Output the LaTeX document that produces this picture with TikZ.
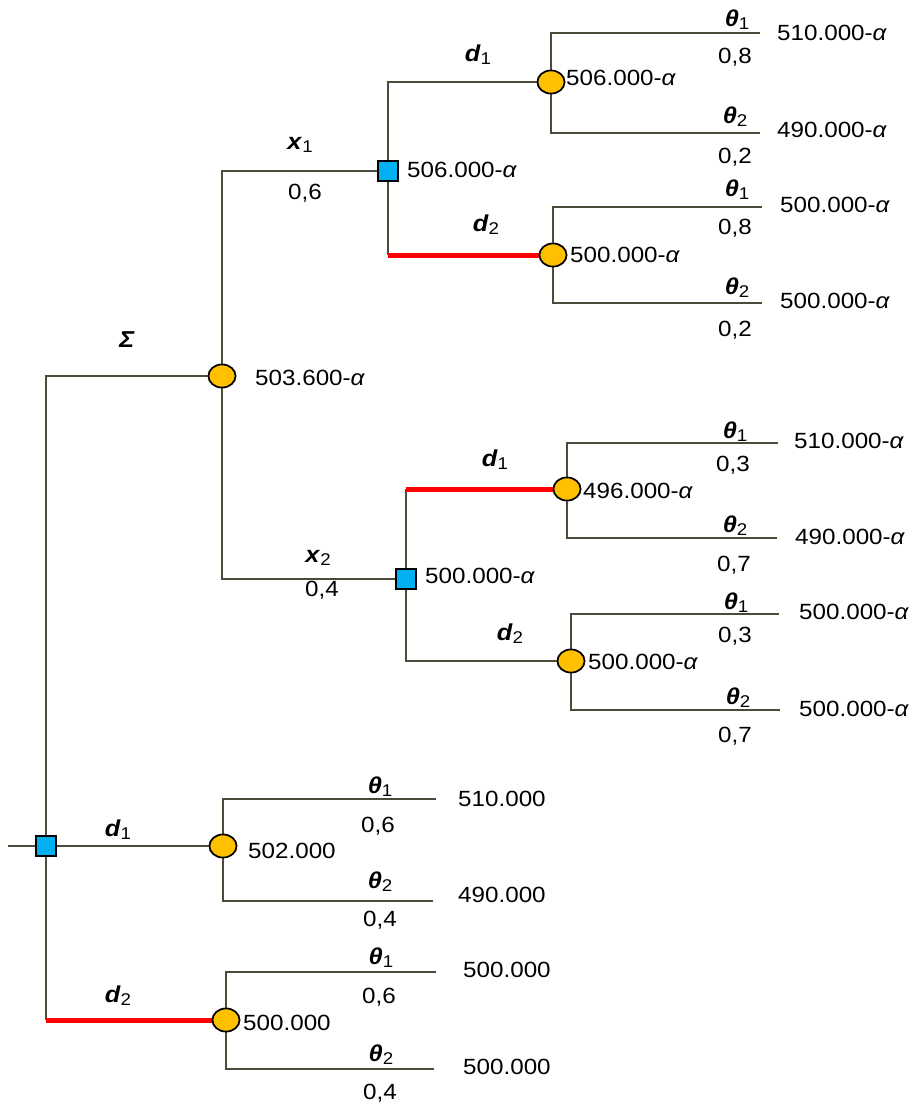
\documentclass[tikz,border=0pt]{standalone}
\usepackage{fontspec}
\setmainfont[FakeStretch=1.1]{Liberation Sans}
\usetikzlibrary{shapes.geometric}
\definecolor{edgecol}{HTML}{4D4A3A}
\definecolor{decblue}{HTML}{00B0F0}
\definecolor{chancegold}{HTML}{FFC000}
\newcommand{\bsub}[2]{{\fontsize{23}{24}\selectfont\textbf{\textit{#1}}}\raisebox{-0.25ex}{\fontsize{17}{17}\selectfont #2}}
\newcommand{\alp}{\textit{α}}
\tikzset{
  edge/.style={draw=edgecol, line width=2.8pt},
  best/.style={draw=red, line width=5pt},
  choice/.style={rectangle, draw=black, line width=1.6pt, fill=decblue, minimum size=20pt, inner sep=0pt},
  chance/.style={ellipse, draw=black, line width=1.6pt, fill=chancegold, minimum width=27pt, minimum height=23pt, inner sep=0pt},
  val/.style={anchor=west, inner sep=0pt, font=\fontsize{22}{24}\selectfont},
  lab/.style={inner sep=0pt, font=\fontsize{22}{24}\selectfont},
}
\begin{document}
\begin{tikzpicture}[x=1pt, y=-1pt]
\useasboundingbox (0,0) rectangle (913,1106);

% decision and chance nodes
\node[choice] (D0) at (46,846) {};
\node[choice] (D1) at (388,171) {};
\node[choice] (D2) at (406,579) {};
\node[chance] (C0) at (222,376) {};
\node[chance] (C1) at (551,82) {};
\node[chance] (C2) at (553,255) {};
\node[chance] (C3) at (567,489) {};
\node[chance] (C4) at (571,661) {};
\node[chance] (C5) at (223,846) {};
\node[chance] (C6) at (226,1020) {};

% free ends of the branches
\coordinate (s0) at (8,846);
\coordinate (e11) at (760,33);  \coordinate (e12) at (760,133);
\coordinate (e21) at (762,207); \coordinate (e22) at (762,303);
\coordinate (e31) at (778,443); \coordinate (e32) at (777,538);
\coordinate (e41) at (779,614); \coordinate (e42) at (780,710);
\coordinate (e51) at (436,799); \coordinate (e52) at (433,901);
\coordinate (e61) at (436,972); \coordinate (e62) at (434,1069);

% corners where the optimal (red) branches begin
\coordinate (k0) at (D0 |- C6);
\coordinate (k1) at (D1 |- C2);
\coordinate (k2) at (D2 |- C3);

\draw[edge] (s0) -- (D0);
\draw[edge] (D0) |- (C0);
\draw[edge] (D0) -- (C5);
\draw[edge] (D0) -- (k0);
\draw[best] (k0) -- (C6);

\draw[edge] (C0) |- (D1);
\draw[edge] (C0) |- (D2);

\draw[edge] (D1) |- (C1);
\draw[edge] (D1) -- (k1);
\draw[best] (k1) -- (C2);
\draw[edge] (D2) -- (k2);
\draw[best] (k2) -- (C3);
\draw[edge] (D2) |- (C4);

\draw[edge] (C1) |- (e11);
\draw[edge] (C1) |- (e12);
\draw[edge] (C2) |- (e21);
\draw[edge] (C2) |- (e22);
\draw[edge] (C3) |- (e31);
\draw[edge] (C3) |- (e32);
\draw[edge] (C4) |- (e41);
\draw[edge] (C4) |- (e42);
\draw[edge] (C5) |- (e51);
\draw[edge] (C5) |- (e52);
\draw[edge] (C6) |- (e61);
\draw[edge] (C6) |- (e62);

% branch labels
\node[lab] (lsig) at (127,340) {\fontsize{23}{24}\selectfont\textbf{\textit{Σ}}};
\node[lab] (lx1) at (300,145) {\bsub{x}{1}};
\node[lab] (px1) at (305,193) {0,6};
\node[lab] (lx2) at (318,558) {\bsub{x}{2}};
\node[lab] (px2) at (322,590) {0,4};
\node[lab] (ld11) at (478,55) {\bsub{d}{1}};
\node[lab] (ld12) at (486,225) {\bsub{d}{2}};
\node[lab] (ld21) at (495,460) {\bsub{d}{1}};
\node[lab] (ld22) at (510,634) {\bsub{d}{2}};
\node[lab] (ld01) at (118,830) {\bsub{d}{1}};
\node[lab] (ld02) at (118,996) {\bsub{d}{2}};

\node[lab] (t11) at (737,20) {\bsub{θ}{1}};  \node[lab] (p11) at (735,57) {0,8};
\node[lab] (t12) at (735,117) {\bsub{θ}{2}}; \node[lab] (p12) at (735,157) {0,2};
\node[lab] (t21) at (737,190) {\bsub{θ}{1}}; \node[lab] (p21) at (735,228) {0,8};
\node[lab] (t22) at (737,288) {\bsub{θ}{2}}; \node[lab] (p22) at (735,330) {0,2};
\node[lab] (t31) at (735,432) {\bsub{θ}{1}}; \node[lab] (p31) at (733,465) {0,3};
\node[lab] (t32) at (735,526) {\bsub{θ}{2}}; \node[lab] (p32) at (734,565) {0,7};
\node[lab] (t41) at (736,603) {\bsub{θ}{1}}; \node[lab] (p41) at (735,636) {0,3};
\node[lab] (t42) at (738,698) {\bsub{θ}{2}}; \node[lab] (p42) at (735,736) {0,7};
\node[lab] (t51) at (380,787) {\bsub{θ}{1}}; \node[lab] (p51) at (378,826) {0,6};
\node[lab] (t52) at (380,882) {\bsub{θ}{2}}; \node[lab] (p52) at (380,920) {0,4};
\node[lab] (t61) at (381,958) {\bsub{θ}{1}}; \node[lab] (p61) at (379,997) {0,6};
\node[lab] (t62) at (381,1055) {\bsub{θ}{2}}; \node[lab] (p62) at (380,1093) {0,4};

% expected values at the nodes
\node[val] (v0) at (255,378) {503.600-\alp};
\node[val] (v1) at (407,170) {506.000-\alp};
\node[val] (v2) at (425,576) {500.000-\alp};
\node[val] (v3) at (566,78) {506.000-\alp};
\node[val] (v4) at (570,255) {500.000-\alp};
\node[val] (v5) at (583,491) {496.000-\alp};
\node[val] (v6) at (588,662) {500.000-\alp};
\node[val] (v7) at (248,851) {502.000};
\node[val] (v8) at (243,1023) {500.000};

% pay-offs at the leaves
\node[val] (r11) at (777,33) {510.000-\alp};
\node[val] (r12) at (777,130) {490.000-\alp};
\node[val] (r21) at (780,205) {500.000-\alp};
\node[val] (r22) at (780,301) {500.000-\alp};
\node[val] (r31) at (794,441) {510.000-\alp};
\node[val] (r32) at (795,537) {490.000-\alp};
\node[val] (r41) at (799,612) {500.000-\alp};
\node[val] (r42) at (799,709) {500.000-\alp};
\node[val] (r51) at (458,799) {510.000};
\node[val] (r52) at (458,895) {490.000};
\node[val] (r61) at (463,970) {500.000};
\node[val] (r62) at (463,1067) {500.000};

% node symbols drawn again over the branch ends
\foreach \n in {D0,D1,D2}{\node[choice] at (\n) {};}
\foreach \n in {C0,C1,C2,C3,C4,C5,C6}{\node[chance] at (\n) {};}
\end{tikzpicture}
\end{document}
